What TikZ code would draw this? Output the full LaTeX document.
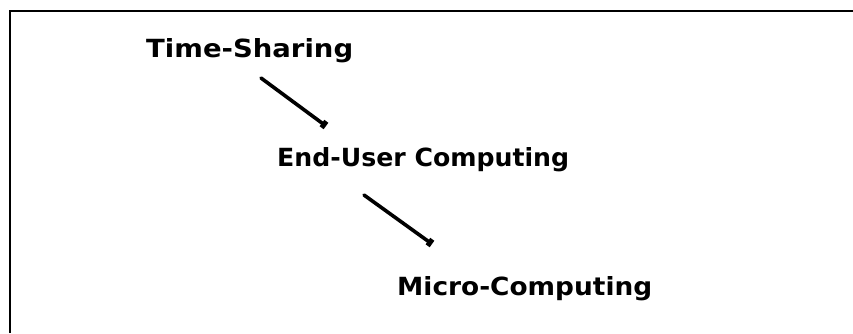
\documentclass[tikz,border=0pt]{standalone}
\usepackage{fontspec}
\setmainfont{DejaVu Sans}
\usetikzlibrary{arrows.meta}
\newcommand{\lblfont}{\fontsize{25}{27}\selectfont\bfseries}
\begin{document}
\begin{tikzpicture}[x=1pt,y=-1pt,
  lbl/.style={font=\lblfont, inner sep=0pt, anchor=base west},
  conn/.style={line width=3.6pt, line cap=round, -{Square[length=5pt,width=8pt]}}]
\useasboundingbox (0,0) rectangle (853,333);
\fill[white] (0,0) rectangle (853,333);
\draw[line width=2.5pt] (10,333) -- (10,11) -- (853,11);
\node[lbl] (ts) at (146,57) {\resizebox{207pt}{\height}{Time-Sharing}};
\node[lbl] (eu) at (277,166) {\resizebox{292pt}{\height}{End-User Computing}};
\node[lbl] (mc) at (397,295) {\resizebox{255pt}{\height}{Micro-Computing}};
\coordinate (a1s) at (261,78);
\coordinate (a1e) at (326,126);
\coordinate (a2s) at (364,195);
\coordinate (a2e) at (432,244);
\draw[conn] (a1s) -- (a1e);
\draw[conn] (a2s) -- (a2e);
\end{tikzpicture}
\end{document}
